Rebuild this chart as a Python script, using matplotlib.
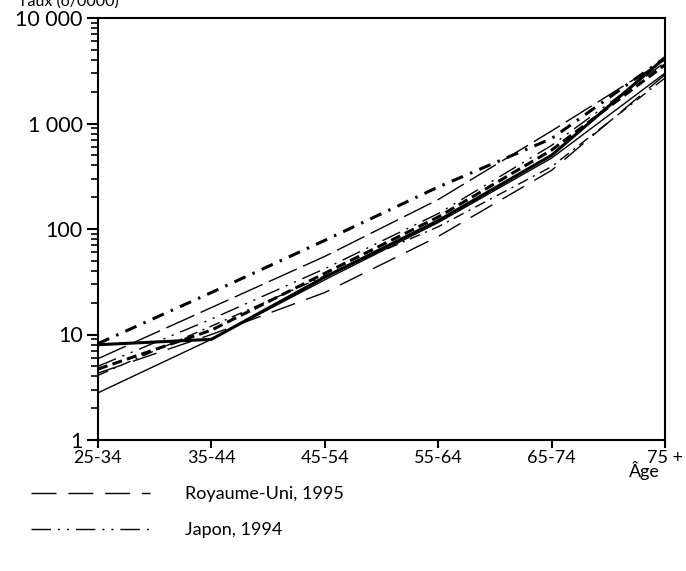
import matplotlib
matplotlib.use("Agg")
from matplotlib import pyplot as plt
from matplotlib.ticker import FixedLocator, LogLocator, NullFormatter

# Age groups and rates (per 100 000)
ages = ["25-34", "35-44", "45-54", "55-64", "65-74", "75 +"]
thick_solid = [8.0, 9.0, 35, 120, 500, 4200]
thick_dashdot = [8.2, 25, 78, 250, 720, 4200]
thin_longdash = [5.9, 18, 55, 190, 850, 4000]
japon_1994 = [5.0, 14, 42, 140, 620, 3800]
thick_dashed = [4.7, 11, 38, 130, 560, 3600]
royaume_uni_1995 = [4.3, 10, 25, 85, 360, 2900]
thin_dashdot = [4.1, 12, 36, 105, 390, 2700]
thin_solid = [2.8, 9.0, 33, 115, 470, 3000]

plt.rcParams['font.family'] = ['Lato', 'DejaVu Sans']

fig = plt.figure(figsize=(6.86, 5.71), dpi=100)
ax = fig.add_axes([98/686, 1-440/571, (665-98)/686, (440-18)/571])

x = list(range(len(ages)))
k = "black"
ax.plot(x, thick_solid, color=k, lw=2.2, solid_joinstyle="miter")
ax.plot(x, thick_dashdot, color=k, lw=2.2, dashes=(4, 2.5, 0.8, 2.5))
ax.plot(x, thin_longdash, color=k, lw=1.0, dashes=(22, 5))
ax.plot(x, japon_1994, color=k, lw=1.0, dashes=(14, 5, 1.5, 5, 1.5, 5), label="Japon, 1994")
ax.plot(x, thick_dashed, color=k, lw=2.2, dashes=(3.3, 1.7))
ax.plot(x, royaume_uni_1995, color=k, lw=1.0, dashes=(18, 8.5), label="Royaume-Uni, 1995")
ax.plot(x, thin_dashdot, color=k, lw=1.0, dashes=(8, 4, 1.5, 4))
ax.plot(x, thin_solid, color=k, lw=1.0)

ax.set_yscale("log")
ax.set_ylim(1, 10000)
ax.set_xlim(0, len(ages) - 1)
ax.yaxis.set_major_locator(FixedLocator([1, 10, 100, 1000, 10000]))
ax.set_yticklabels(["1", "10", "100", "1 000", "10 000"])
ax.yaxis.set_minor_locator(LogLocator(base=10, subs=range(2, 10)))
ax.yaxis.set_minor_formatter(NullFormatter())
ax.set_xticks(x)
ax.set_xticklabels(ages)

for sp in ax.spines.values():
    sp.set_linewidth(1.5)
ax.tick_params(axis="x", which="major", direction="out", length=6, width=1.5,
               labelsize=13, pad=1.5)
ax.tick_params(axis="y", which="major", direction="out", length=8, width=1.5,
               labelsize=15.5, pad=3)
ax.tick_params(axis="y", which="minor", direction="out", length=5, width=1.2)

fig.text(18/686, 1-2/571, "Taux (o/0000)", fontsize=11.5, va="center", ha="left")
fig.text(644/686, 1-471/571, "Âge", fontsize=13, va="center", ha="center")

h, l = ax.get_legend_handles_labels()
order = [1, 0]
fig.legend([h[i] for i in order], [l[i] for i in order], loc="upper left",
           bbox_to_anchor=(15/686, 1-470/571), frameon=False, fontsize=13,
           handlelength=6.6, handletextpad=1.9, labelspacing=1.1)

fig.savefig("out.png", dpi=100)
